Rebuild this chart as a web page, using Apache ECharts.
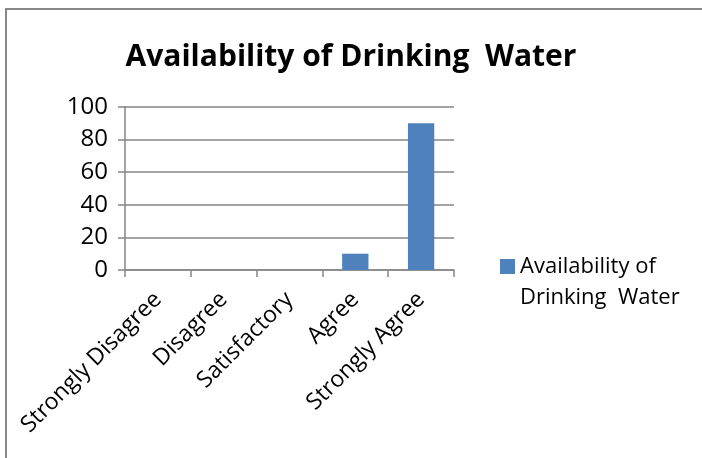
<!DOCTYPE html>
<html>
<head>
<meta charset="utf-8">
<script src="https://cdn.jsdelivr.net/npm/echarts@6/dist/echarts.min.js"></script>
<style>
  html, body { margin: 0; padding: 0; background: #fff; overflow: hidden; width: 702px; height: 458px; }
  .edge { position: absolute; background: #888; }
  #edgeTop { left: 5px; top: 8px; width: 697px; height: 2px; }
  #edgeLeft { left: 5px; top: 8px; width: 2px; height: 450px; }
  #chart { position: absolute; left: 0; top: 0; width: 702px; height: 458px; }
</style>
</head>
<body>
<div class="edge" id="edgeTop"></div>
<div class="edge" id="edgeLeft"></div>
<div id="chart"></div>
<script>
const categories = ['Strongly Disagree', 'Disagree', 'Satisfactory', 'Agree', 'Strongly Agree'];
const waterValues = [0, 0, 0, 10, 90];
const seriesName = 'Availability of\nDrinking  Water';
const chartTitle = 'Availability of Drinking  Water';

const font = '"Open Sans", sans-serif';
const grey = '#868686';

let chart = echarts.init(document.getElementById('chart'));

// square sits on the first legend line: extra empty subpath stretches the icon box downward
const legendIcon = 'path://M0,0L15,0L15,15L0,15Z M0,46L0.01,46Z';

let option = {
  animation: false,
  title: {
    text: chartTitle,
    left: 'center',
    top: 37,
    textStyle: { fontFamily: font, fontSize: 30, fontWeight: 'bold', color: '#000' }
  },
  grid: { left: 125, right: 248, top: 107, bottom: 188 },
  legend: {
    left: 495,
    top: 246,
    orient: 'vertical',
    icon: legendIcon,
    itemWidth: 15,
    itemHeight: 46,
    itemGap: 6,
    textStyle: { fontFamily: font, fontSize: 22, color: '#000', lineHeight: 31 },
    data: [seriesName]
  },
  xAxis: {
    type: 'category',
    data: categories,
    axisLine: { lineStyle: { color: grey, width: 1.5 } },
    axisTick: { show: true, length: 7, lineStyle: { color: grey, width: 1.5 } },
    axisLabel: {
      rotate: 45, interval: 0, margin: 26,
      fontFamily: font, fontSize: 23, color: '#000'
    }
  },
  yAxis: {
    type: 'value',
    min: 0, max: 100, interval: 20,
    axisLine: { show: true, lineStyle: { color: grey, width: 1.5 } },
    axisTick: { show: true, length: 7, lineStyle: { color: grey, width: 1.5 } },
    splitLine: { lineStyle: { color: grey, width: 1.5 } },
    axisLabel: { fontFamily: font, fontSize: 24, color: '#000', margin: 17 }
  },
  series: [{
    name: seriesName,
    type: 'bar',
    data: waterValues,
    barWidth: '40%',
    itemStyle: { color: '#4F81BD' }
  }]
};

chart.setOption(option);
</script>
</body>
</html>
